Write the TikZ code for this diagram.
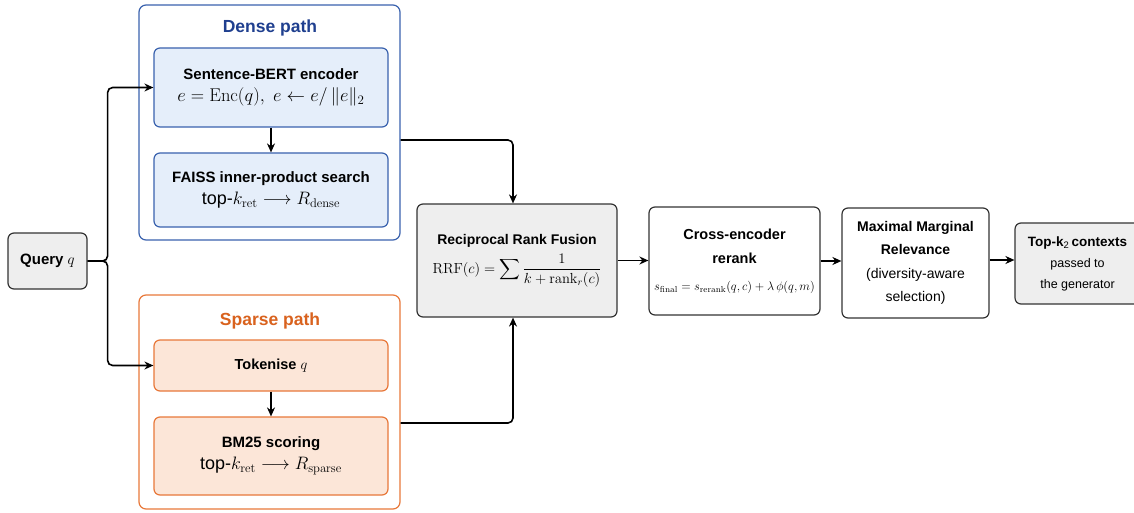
\RequirePackage{fix-cm}
\documentclass[tikz,border=0pt]{standalone}
\usepackage{amsmath}
\usepackage[no-math]{fontspec}
\setmainfont{Liberation Sans}
\usetikzlibrary{arrows.meta,calc}
\definecolor{dborder}{HTML}{3A62AE}
\definecolor{dtitle}{HTML}{1F3F8F}
\definecolor{dfill}{HTML}{E5EEFA}
\definecolor{sborder}{HTML}{E8783A}
\definecolor{stitle}{HTML}{D9621E}
\definecolor{sfill}{HTML}{FCE6D8}
\definecolor{gfill}{HTML}{EEEEEE}
\definecolor{gborder}{HTML}{333333}
\tikzset{
  box/.style={draw, rounded corners=6pt, line width=1.2pt, align=center, inner sep=0pt},
  container/.style={draw, rounded corners=7pt, line width=1.2pt, fill=white},
  densebox/.style={box, draw=dborder, fill=dfill},
  sparsebox/.style={box, draw=sborder, fill=sfill},
  graybox/.style={box, draw=gborder, fill=gfill},
  whitebox/.style={box, draw=gborder, fill=white},
  conn/.style={-{Stealth[length=9pt,width=8pt]}, line width=1.6pt, rounded corners=5pt},
}
\begin{document}
\begin{tikzpicture}[x=1pt,y=-1pt]
\useasboundingbox (0,0) rectangle (1134,513);
% containers
\node[container, draw=dborder, minimum width=261pt, minimum height=235pt] (dense) at (269.5,122.5) {};
\node[font=\fontsize{17.5}{20}\selectfont\bfseries, text=dtitle] (dtitle) at (270,28) {Dense path};
\node[container, draw=sborder, minimum width=261pt, minimum height=214pt] (sparse) at (269.5,402) {};
\node[font=\fontsize{17.5}{20}\selectfont\bfseries, text=stitle] (stitle) at (270,321) {Sparse path};
% query
\node[graybox, minimum width=79pt, minimum height=56pt, font=\fontsize{15}{17}\selectfont\bfseries] (q) at (47.5,261) {Query $q$};
% dense path boxes
\node[densebox, minimum width=234pt, minimum height=79pt, font=\fontsize{15}{18}\selectfont] (sbert) at (271,87.5)
  {\textbf{Sentence-BERT encoder}\\[4pt]
   \fontsize{18.5}{20}\selectfont $e=\mathrm{Enc}(q),\ e\leftarrow e/\,\|e\|_2$};
\node[densebox, minimum width=234pt, minimum height=74pt, font=\fontsize{15}{18}\selectfont] (faiss) at (271,190)
  {\textbf{FAISS inner-product search}\\[4pt]
   \fontsize{18}{20}\selectfont top-$k_{\mathrm{ret}}\longrightarrow R_{\mathrm{dense}}$};
% sparse path boxes
\node[sparsebox, minimum width=234pt, minimum height=51pt, font=\fontsize{14.5}{17}\selectfont\bfseries] (tok) at (271,365.5) {Tokenise $q$};
\node[sparsebox, minimum width=234pt, minimum height=78pt, font=\fontsize{15}{18}\selectfont] (bm25) at (271,456)
  {\textbf{BM25 scoring}\\[4pt]
   \fontsize{18}{20}\selectfont top-$k_{\mathrm{ret}}\longrightarrow R_{\mathrm{sparse}}$};
% RRF
\node[graybox, minimum width=200pt, minimum height=113pt, font=\fontsize{14}{17}\selectfont] (rrf) at (517,260.5)
  {\textbf{Reciprocal Rank Fusion}\\[6pt]
   \fontsize{14.6}{18}\selectfont $\displaystyle\mathrm{RRF}(c)=\sum\frac{1}{k+\mathrm{rank}_r(c)}$};
% cross encoder
\node[whitebox, minimum width=171pt, minimum height=108pt, font=\fontsize{14.5}{24}\selectfont] (ce) at (734.5,261)
  {\textbf{Cross-encoder}\\ \textbf{rerank}\\[3pt]
   \fontsize{12.4}{14}\selectfont $s_{\mathrm{final}}=s_{\mathrm{rerank}}(q,c)+\lambda\,\phi(q,m)$};
% MMR
\node[whitebox, minimum width=147pt, minimum height=110pt, font=\fontsize{14}{23.5}\selectfont] (mmr) at (915.5,263)
  {\textbf{Maximal Marginal}\\ \textbf{Relevance}\\ (diversity-aware\\ selection)};
% top-k
\node[graybox, minimum width=125pt, minimum height=81pt, font=\fontsize{12.5}{21}\selectfont] (top) at (1077.5,263.5)
  {\fontsize{13.5}{21}\selectfont\textbf{Top-k}\textsubscript{2}\,\textbf{contexts}\\ passed to\\ the generator};
% connectors
\draw[conn] (q.east) -- ++(20,0) |- (sbert.west);
\draw[conn] (q.east) -- ++(20,0) |- (tok.west);
\draw[conn] (sbert.south) -- (faiss.north);
\draw[conn] (tok.south) -- (bm25.north);
\draw[conn] ([yshift=-17.5pt]dense.east) -| ([xshift=-4pt]rrf.north);
\draw[conn] ([yshift=-21pt]sparse.east) -| ([xshift=-4pt]rrf.south);
\draw[conn] (rrf.east) -- (rrf.east -| ce.west);
\draw[conn] (ce.east) -- (ce.east -| mmr.west);
\draw[conn] (mmr.east |- 0,260) -- (top.west |- 0,260);
\end{tikzpicture}
\end{document}
